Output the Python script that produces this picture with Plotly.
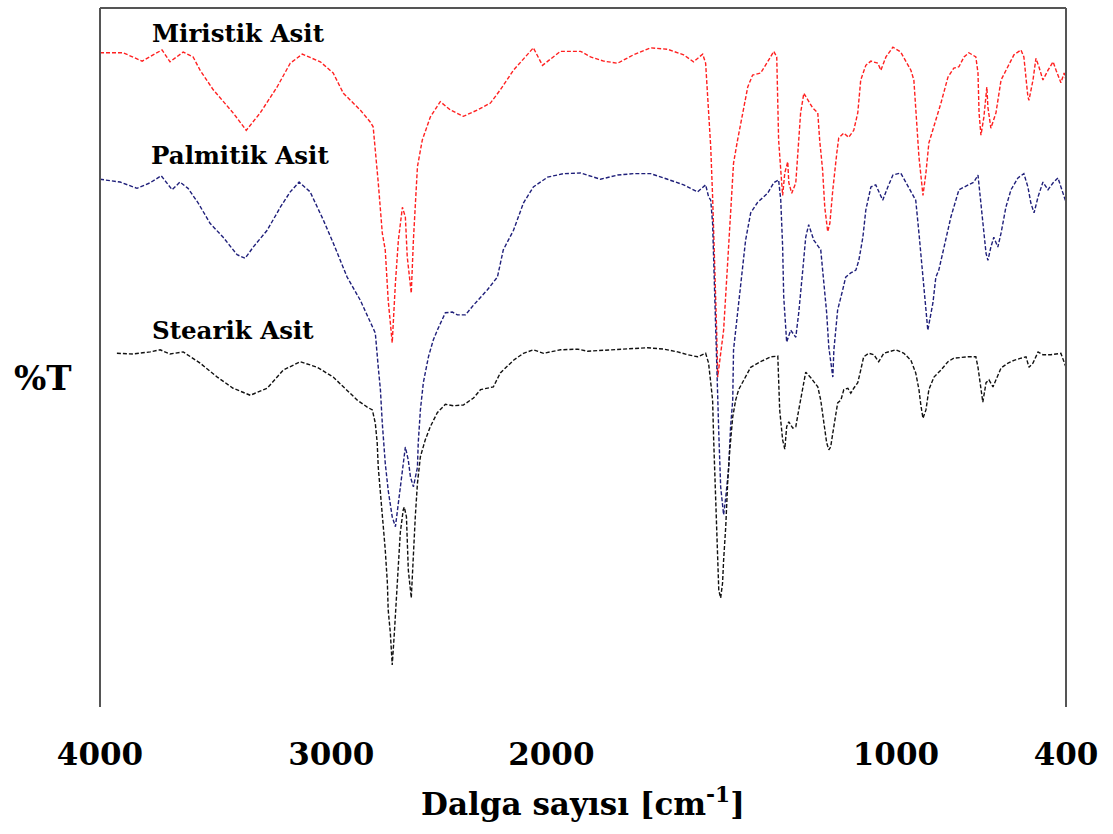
import plotly.graph_objects as go

# ---- FTIR spectra: wavenumber (cm-1) and transmittance (%T, stacked) ----
miristik_wn = [4000, 3914, 3843, 3769, 3739, 3690, 3653, 3627, 3578, 3504, 3455, 3403, 3340, 3291, 3246,
               3179, 3131, 3093, 3030, 2993, 2982, 2974, 2963, 2948, 2937, 2926, 2911, 2899, 2888, 2873,
               2862, 2855, 2840, 2832, 2817, 2799, 2769, 2732, 2694, 2646, 2594, 2545, 2508, 2459, 2407,
               2385, 2351, 2310, 2284, 2209, 2172, 2123, 2071, 2012, 1948, 1885, 1825, 1788, 1754, 1743,
               1736, 1724, 1717, 1709, 1702, 1698, 1691, 1683, 1676, 1661, 1650, 1639, 1624, 1605, 1586,
               1568, 1538, 1512, 1489, 1478, 1474, 1471, 1463, 1456, 1448, 1437, 1433, 1422, 1407, 1400,
               1389, 1377, 1362, 1344, 1325, 1318, 1307, 1299, 1288, 1280, 1269, 1262, 1254, 1247, 1228,
               1210, 1191, 1176, 1165, 1146, 1127, 1101, 1090, 1071, 1045, 1016, 978, 967, 960, 948,
               933, 922, 911, 892, 866, 840, 818, 799, 780, 762, 736, 728, 724, 717, 706,
               695, 691, 680, 661, 642, 616, 594, 568, 557, 542, 538, 523, 512, 501, 486,
               467, 448, 437, 419, 407, 400]
miristik_t = [93.6, 93.6, 92.4, 94.0, 92.3, 93.7, 93.0, 91.1, 88.3, 85.0, 82.5, 85.0, 88.7, 92.1, 93.4,
              92.3, 90.7, 87.8, 85.4, 83.7, 83.0, 79.7, 75.0, 67.8, 65.4, 58.2, 52.1, 60.7, 66.8, 71.5,
              70.1, 64.4, 59.2, 66.8, 77.3, 81.1, 84.4, 86.6, 85.4, 84.5, 85.4, 86.4, 88.3, 91.1, 93.3,
              94.3, 91.8, 93.0, 93.8, 93.8, 93.0, 92.4, 92.1, 93.3, 94.3, 94.1, 93.3, 92.3, 93.4, 92.1,
              87.3, 80.1, 73.0, 63.9, 53.9, 47.2, 49.6, 51.8, 53.9, 63.5, 70.7, 77.8, 81.1, 85.0, 88.7,
              90.4, 90.7, 92.3, 93.8, 93.0, 87.3, 81.1, 76.8, 73.2, 76.4, 78.0, 75.0, 73.5, 75.0, 78.7,
              85.0, 87.8, 86.8, 85.7, 85.0, 81.1, 76.8, 71.5, 68.0, 69.2, 74.0, 76.8, 79.3, 81.4, 82.1,
              81.5, 82.5, 85.0, 89.7, 91.8, 92.4, 92.1, 91.1, 93.0, 94.4, 93.7, 91.1, 89.7, 85.0, 78.7,
              73.2, 76.4, 80.7, 83.0, 86.4, 90.1, 91.4, 91.6, 93.0, 93.6, 93.0, 90.7, 85.0, 81.8, 84.4,
              88.7, 85.8, 82.8, 85.0, 89.7, 91.6, 93.3, 94.0, 93.0, 87.3, 86.8, 89.7, 92.8, 91.6, 89.7,
              91.1, 92.3, 91.1, 89.3, 90.7, 89.7]

palmitik_wn = [4000, 3925, 3862, 3813, 3772, 3731, 3702, 3672, 3634, 3590, 3541, 3489, 3459, 3429, 3377,
               3328, 3291, 3258, 3217, 3168, 3131, 3079, 3030, 2985, 2974, 2963, 2955, 2948, 2937, 2926,
               2911, 2899, 2888, 2873, 2862, 2851, 2843, 2832, 2817, 2814, 2806, 2795, 2776, 2758, 2743,
               2713, 2687, 2668, 2638, 2608, 2556, 2519, 2497, 2459, 2422, 2385, 2332, 2273, 2209, 2135,
               2071, 2012, 1948, 1885, 1825, 1773, 1743, 1732, 1724, 1717, 1713, 1702, 1694, 1687, 1676,
               1668, 1657, 1650, 1642, 1639, 1631, 1612, 1594, 1575, 1549, 1512, 1489, 1471, 1463, 1456,
               1452, 1441, 1426, 1407, 1396, 1381, 1370, 1359, 1340, 1314, 1303, 1292, 1284, 1269, 1265,
               1251, 1232, 1221, 1202, 1183, 1172, 1157, 1146, 1127, 1109, 1083, 1064, 1045, 1016, 986,
               960, 948, 933, 922, 915, 896, 885, 874, 855, 829, 799, 766, 743, 728, 721,
               710, 698, 691, 680, 669, 654, 642, 624, 605, 579, 557, 542, 531, 519, 504,
               486, 467, 448, 430, 411, 400]
palmitik_t = [75.5, 75.1, 74.2, 75.0, 76.0, 74.0, 75.1, 74.2, 72.1, 69.2, 67.2, 64.7, 64.2, 65.8, 68.2,
              71.5, 73.7, 75.1, 73.7, 69.7, 66.4, 61.5, 58.2, 54.4, 53.5, 48.6, 45.4, 40.6, 34.9, 31.0,
              27.2, 25.8, 29.2, 33.9, 37.2, 35.3, 32.9, 31.5, 34.3, 37.8, 42.5, 46.4, 50.1, 52.5, 53.9,
              56.4, 56.5, 56.1, 56.1, 57.5, 59.7, 61.5, 65.4, 68.2, 72.1, 74.4, 75.8, 76.3, 76.4, 75.5,
              76.1, 76.3, 76.3, 75.5, 74.7, 73.7, 74.7, 73.0, 72.5, 69.2, 63.5, 51.1, 39.2, 31.5, 27.5,
              30.0, 34.3, 40.1, 43.9, 51.1, 53.9, 61.1, 66.8, 70.7, 72.2, 73.5, 75.0, 75.4, 72.5, 65.8,
              58.7, 52.2, 53.9, 52.9, 56.4, 62.5, 67.2, 69.0, 66.8, 65.4, 61.1, 56.4, 51.5, 47.2, 51.1,
              56.8, 59.7, 61.5, 62.1, 62.5, 63.9, 67.2, 71.1, 74.4, 74.7, 72.5, 74.4, 76.1, 76.4, 74.4,
              72.5, 67.8, 61.5, 56.8, 53.9, 57.8, 61.5, 62.5, 65.8, 70.1, 74.0, 74.7, 75.1, 76.1, 73.5,
              68.7, 64.9, 63.9, 65.8, 67.2, 65.8, 67.8, 71.5, 74.0, 75.7, 76.3, 74.4, 72.1, 70.7, 73.0,
              75.1, 74.0, 75.0, 75.7, 73.5, 72.2]

stearik_wn = [3937, 3877, 3813, 3776, 3739, 3690, 3627, 3563, 3504, 3440, 3377, 3317, 3254, 3190, 3131,
              3093, 3041, 3004, 2985, 2974, 2967, 2963, 2955, 2948, 2937, 2929, 2926, 2918, 2911, 2903,
              2896, 2888, 2881, 2870, 2866, 2858, 2851, 2840, 2832, 2825, 2817, 2806, 2788, 2769, 2743,
              2713, 2683, 2646, 2608, 2582, 2534, 2508, 2459, 2422, 2385, 2347, 2284, 2220, 2183, 2109,
              2034, 1959, 1900, 1847, 1810, 1773, 1743, 1732, 1724, 1717, 1713, 1709, 1702, 1698, 1694,
              1687, 1680, 1676, 1668, 1661, 1653, 1642, 1631, 1620, 1601, 1575, 1538, 1500, 1474, 1471,
              1467, 1456, 1448, 1441, 1433, 1418, 1407, 1396, 1381, 1370, 1351, 1325, 1314, 1303, 1292,
              1284, 1277, 1269, 1262, 1251, 1239, 1228, 1213, 1202, 1191, 1176, 1165, 1154, 1135, 1116,
              1098, 1079, 1053, 1034, 1004, 978, 960, 948, 941, 933, 922, 911, 892, 866, 840,
              818, 766, 736, 728, 721, 710, 698, 687, 672, 661, 642, 616, 594, 568, 549,
              538, 523, 504, 486, 456, 437, 419, 400]
stearik_t = [50.6, 50.5, 50.8, 51.1, 50.5, 50.8, 49.2, 47.2, 45.6, 44.6, 45.6, 48.2, 49.4, 48.6, 47.2,
             45.8, 43.9, 42.9, 42.5, 40.6, 37.8, 34.3, 31.0, 27.2, 22.5, 17.7, 13.9, 10.6, 6.0, 10.6,
             15.3, 20.0, 24.9, 28.2, 28.6, 27.2, 19.6, 15.6, 22.5, 27.2, 32.0, 35.8, 38.2, 40.1, 42.1,
             43.3, 43.1, 43.2, 44.2, 45.4, 45.8, 47.8, 49.6, 50.6, 51.1, 50.6, 51.1, 51.2, 50.9, 51.1,
             51.2, 51.4, 51.2, 50.8, 50.4, 50.1, 50.6, 49.2, 46.4, 43.9, 38.2, 33.5, 27.2, 21.0, 16.7,
             15.6, 17.7, 21.0, 25.8, 32.0, 36.8, 41.5, 43.9, 45.4, 46.8, 48.6, 49.4, 50.1, 50.2, 46.4,
             42.5, 38.2, 36.9, 40.1, 40.8, 39.9, 40.1, 42.5, 45.8, 47.9, 47.1, 45.8, 43.9, 40.6, 37.8,
             36.8, 37.2, 39.2, 41.1, 43.5, 43.9, 45.4, 45.6, 44.9, 45.6, 46.4, 48.2, 50.1, 50.6, 50.4,
             49.4, 50.6, 50.9, 51.1, 50.6, 49.6, 47.8, 45.4, 43.2, 41.3, 42.5, 45.4, 47.2, 48.2, 49.4,
             49.9, 50.1, 50.1, 48.6, 46.4, 43.6, 46.4, 46.8, 45.8, 46.8, 48.5, 49.2, 49.6, 49.9, 50.1,
             48.6, 49.2, 50.8, 50.4, 50.4, 50.5, 50.6, 48.6]

series_names = ["Miristik Asit", "Palmitik Asit", "Stearik Asit"]
series_colors = ["#ff2020", "#1f1f7a", "#111111"]

# label anchors (wavenumber, %T) for the curve names
label_wn = [3485, 3478, 3504]
label_t = [96.4, 78.9, 53.8]

# x tick labels and the wavenumbers where they are printed
tick_text = ["4000", "3000", "2000", "1000", "400"]
tick_pos = [4000, 3138, 2318, 1034, 400]

FONT = "DejaVu Serif"

fig = go.Figure()
for wn, t, name, col in zip([miristik_wn, palmitik_wn, stearik_wn],
                            [miristik_t, palmitik_t, stearik_t],
                            series_names, series_colors):
    fig.add_trace(go.Scatter(x=wn, y=t, mode="lines", name=name,
                             line=dict(color=col, width=1.4, dash="4px,2px"),
                             hoverinfo="skip", showlegend=False))

for name, x, y in zip(series_names, label_wn, label_t):
    fig.add_annotation(x=x, y=y, xref="x", yref="y", text=name, showarrow=False,
                       xanchor="center", yanchor="middle",
                       font=dict(family=FONT, size=24.5, color="black", weight="bold"))

# %T label on the left
fig.add_annotation(x=-0.059, y=0.47, xref="paper", yref="paper", text="%T",
                   showarrow=False, xanchor="center", yanchor="middle",
                   font=dict(family=FONT, size=34, color="black", weight="bold"))

# frame: left, top and right edges
frame = dict(color="#555555", width=2)
fig.add_shape(type="line", xref="paper", yref="paper", x0=0, y0=0, x1=0, y1=1, line=frame)
fig.add_shape(type="line", xref="paper", yref="paper", x0=0, y0=1, x1=1, y1=1, line=frame)
fig.add_shape(type="line", xref="paper", yref="paper", x0=1, y0=0, x1=1, y1=1, line=frame)

fig.update_layout(
    width=1113, height=834,
    margin=dict(l=100, r=47, t=8, b=127),
    paper_bgcolor="white", plot_bgcolor="white",
    xaxis=dict(range=[4000, 400], showgrid=False, zeroline=False, showline=False,
               tickmode="array", tickvals=tick_pos, ticktext=tick_text, ticks="",
               ticklabelstandoff=26,
               tickfont=dict(family=FONT, size=31, color="black", weight="bold"),
               title=dict(text="Dalga sayısı [cm<sup>-1</sup>]", standoff=22,
                          font=dict(family=FONT, size=31, color="black", weight="bold"))),
    yaxis=dict(range=[0, 100], showgrid=False, zeroline=False, showline=False,
               showticklabels=False, ticks=""),
)

fig.write_html("out.html")
